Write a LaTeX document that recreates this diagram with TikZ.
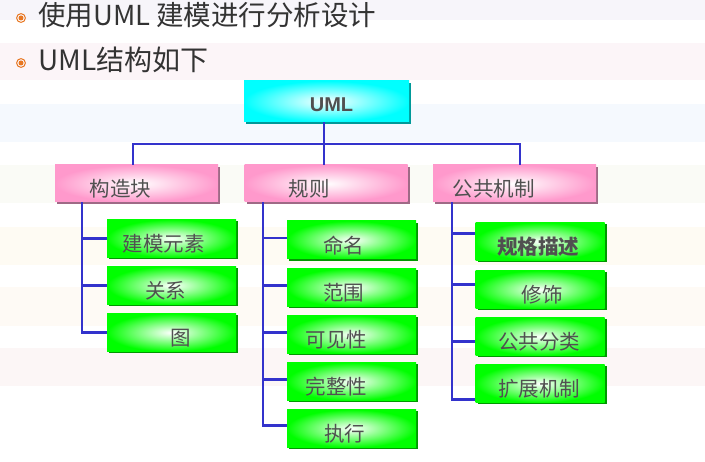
\documentclass[tikz,border=0pt]{standalone}
\usepackage{fontspec}
\setmainfont{Noto Sans CJK SC}
\newfontfamily\latinbold{Liberation Sans}
\usetikzlibrary{shadows}
\definecolor{conncol}{HTML}{3333CC}
\definecolor{txtgray}{HTML}{505050}
\definecolor{titlecol}{HTML}{333333}
\definecolor{bulletcol}{HTML}{E87722}
\definecolor{pinkc}{HTML}{FF99CC}
\definecolor{pinkshadow}{HTML}{9E6A86}
\definecolor{greenc}{HTML}{00FF00}
\definecolor{greenshadow}{HTML}{009900}
\definecolor{cyanc}{HTML}{00FFFF}
\definecolor{cyanshadow}{HTML}{009999}
\definecolor{bandA}{HTML}{F7F5FA}
\definecolor{bandB}{HTML}{FCF5F8}
\definecolor{bandC}{HTML}{F5F9FE}
\definecolor{bandD}{HTML}{FAFBF6}
\definecolor{bandE}{HTML}{FEFBF3}
\definecolor{bandF}{HTML}{FEFAF5}
\definecolor{bandG}{HTML}{FCF6F6}
\tikzset{
  boxbase/.style={inner sep=0pt, text=txtgray, font=\fontsize{20.5}{22}\selectfont,
    text height=27pt, text depth=0pt},
  umlbox/.style={boxbase, minimum width=165pt, minimum height=41pt,
    shading=radial, inner color=white, outer color=cyanc,
    drop shadow={shadow xshift=2pt, shadow yshift=-2pt, fill=cyanshadow, opacity=1},
    font=\latinbold\bfseries\fontsize{20}{22}\selectfont, text=txtgray,
    text height=20.5pt, text depth=0pt},
  pinkbox/.style={boxbase, minimum width=163pt, minimum height=37pt,
    shading=radial, inner color=white, outer color=pinkc,
    drop shadow={shadow xshift=2pt, shadow yshift=-2pt, fill=pinkshadow, opacity=1}},
  greenbox/.style={boxbase, minimum width=129pt, minimum height=38pt,
    shading=radial, inner color=white, outer color=greenc,
    drop shadow={shadow xshift=2pt, shadow yshift=-2pt, fill=greenshadow, opacity=1}},
  conn/.style={draw=conncol, line width=2.5pt},
  titletext/.style={anchor=west, inner sep=0pt, text=titlecol},
}
\begin{document}
\begin{tikzpicture}[x=1pt,y=-1pt]
\useasboundingbox (0,0) rectangle (705,462);
\fill[white] (0,0) rectangle (705,462);
% background bands
\fill[bandA] (0,0) rectangle (705,20);
\fill[bandB] (0,43) rectangle (705,80);
\fill[bandC] (0,104) rectangle (705,142);
\fill[bandD] (0,165) rectangle (705,203);
\fill[bandE] (0,227) rectangle (705,265);
\fill[bandF] (0,287) rectangle (705,326);
\fill[bandG] (0,348) rectangle (705,386);
% title lines
\draw[bulletcol, line width=1pt] (21,18) circle (4.4);
\fill[bulletcol] (21,18) circle (2.5);
\draw[bulletcol, line width=1pt] (21,63) circle (4.4);
\fill[bulletcol] (21,63) circle (2.5);
\node[titletext, font=\fontsize{27.5}{29}\selectfont] (t1) at (38,15) {使用UML 建模进行分析设计};
\node[titletext, font=\fontsize{28}{30}\selectfont] (t2) at (38,60) {UML结构如下};
% top
\node[umlbox] (uml) at (326.5,101.5) {UML\hspace*{-10pt}};
% second level
\node[pinkbox] (kzk) at (136.5,183.5) {构造块\hspace*{32pt}};
\node[pinkbox] (gz) at (326,183.5) {规则\hspace*{34pt}};
\node[pinkbox] (ggjz) at (514.5,183.5) {公共机制\hspace*{42pt}};
% left leaves
\node[greenbox] (jmys) at (171.5,238.5) {建模元素\hspace*{16pt}};
\node[greenbox] (gx) at (171.5,285.5) {关系\hspace*{12pt}};
\node[greenbox] (tu) at (171.5,332.5) {图\hspace*{-18pt}};
% middle leaves
\node[greenbox] (mm) at (351.5,240) {命名\hspace*{16pt}};
\node[greenbox] (fw) at (351.5,287.5) {范围\hspace*{16pt}};
\node[greenbox] (kjx) at (351.5,334.5) {可见性\hspace*{30pt}};
\node[greenbox] (wzx) at (351.5,381.5) {完整性\hspace*{30pt}};
\node[greenbox] (zx) at (351.5,428.5) {执行\hspace*{14pt}};
% right leaves
\node[greenbox] (ggms) at (540,241.5) {\textbf{规格描述}\hspace*{4pt}};
\node[greenbox] (xs) at (540,289.5) {修饰\hspace*{-4pt}};
\node[greenbox] (ggfl) at (540,336.5) {公共分类\hspace*{2pt}};
\node[greenbox] (kzjz) at (540,383.5) {扩展机制\hspace*{2pt}};
% branch attachment points
\coordinate (mmA) at ([yshift=2pt]mm.west);
\coordinate (fwA) at ([yshift=2pt]fw.west);
\coordinate (kjxA) at ([yshift=2pt]kjx.west);
\coordinate (wzxA) at ([yshift=2pt]wzx.west);
\coordinate (zxA) at ([yshift=3pt]zx.west);
\coordinate (ggmsA) at ([yshift=8pt]ggms.west);
\coordinate (xsA) at ([yshift=5pt]xs.west);
\coordinate (ggflA) at ([yshift=-5pt]ggfl.west);
\coordinate (kzjzA) at ([yshift=-16pt]kzjz.west);
% connectors: top bus
\coordinate (bus) at (324,144);
\draw[conn] ([xshift=-2.5pt]uml.south) -- (bus);
\draw[conn] ([xshift=-3.5pt]kzk.north) |- (bus) -| ([xshift=5.5pt]ggjz.north);
\draw[conn] (bus) -- ([xshift=-2pt]gz.north);
% left tree
\coordinate (lx) at (82,0);
\draw[conn] (lx |- kzk.south) -- (lx |- tu.west) -- (tu.west);
\draw[conn] (lx |- jmys.west) -- (jmys.west);
\draw[conn] (lx |- gx.west) -- (gx.west);
% middle tree
\coordinate (mx) at (263,0);
\draw[conn] (mx |- gz.south) -- (mx |- zxA) -- (zxA);
\draw[conn] (mx |- mmA) -- (mmA);
\draw[conn] (mx |- fwA) -- (fwA);
\draw[conn] (mx |- kjxA) -- (kjxA);
\draw[conn] (mx |- wzxA) -- (wzxA);
% right tree
\coordinate (rx) at (452,0);
\draw[conn] (rx |- ggjz.south) -- (rx |- kzjzA) -- (kzjzA);
\draw[conn] (rx |- ggmsA) -- (ggmsA);
\draw[conn] (rx |- xsA) -- (xsA);
\draw[conn] (rx |- ggflA) -- (ggflA);
\end{tikzpicture}
\end{document}
